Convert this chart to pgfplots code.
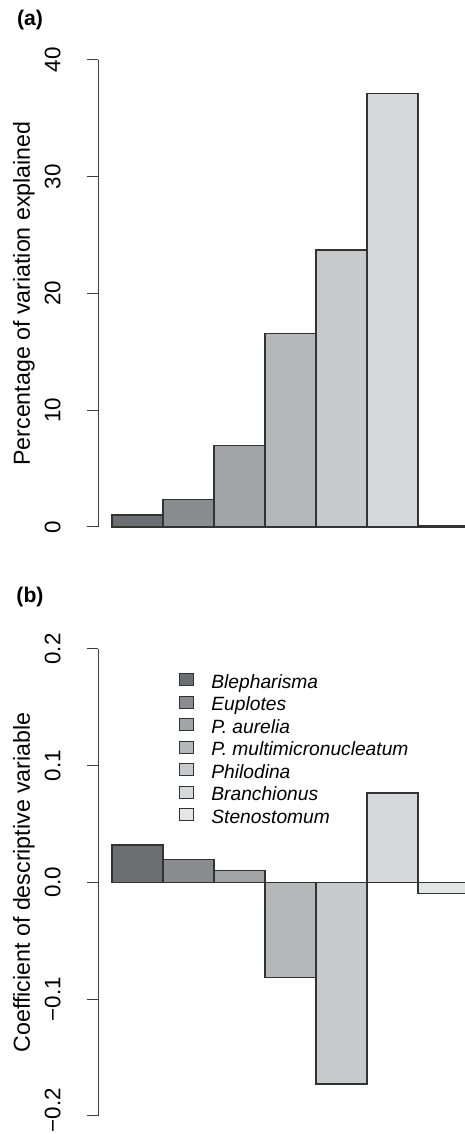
\documentclass[border=0pt]{standalone}
\usepackage{fontspec}
\setmainfont{Liberation Sans}
\usepackage{pgfplots}
\pgfplotsset{compat=1.18}

\definecolor{c1}{HTML}{6D6E71}
\definecolor{c2}{HTML}{8B8C8F}
\definecolor{c3}{HTML}{A3A4A6}
\definecolor{c4}{HTML}{B6B7B9}
\definecolor{c5}{HTML}{C8C9CB}
\definecolor{c6}{HTML}{D7D8D9}
\definecolor{c7}{HTML}{E4E5E6}
\definecolor{edge}{HTML}{333333}

\pgfplotsset{
  rbar/.style={
    scale only axis,
    width=183.5pt,
    xmin=0.2255, xmax=7.4216,
    axis x line=none,
    axis y line*=left,
    clip=false,
    ybar, bar shift=0pt, bar width=1,
    tick align=outside,
    major tick length=5.5pt,
    y axis line style={draw=black!75, line width=0.5pt},
    ytick style={draw=black!75, line width=0.5pt},
    /pgf/number format/assume math mode=true,
    yticklabel style={xshift=-13pt, rotate=90, anchor=south, inner sep=0pt,
      font=\fontsize{11.2}{13}\selectfont},
    every axis y label/.style={at={(axis description cs:-0.1717,0.5)},
      rotate=90, anchor=south, inner sep=0pt,
      font=\fontsize{11.6}{13}\selectfont},
    every axis plot/.append style={draw=edge, line width=0.65pt},
  }
}

\begin{document}
\begin{tikzpicture}
\useasboundingbox (0,0) rectangle (232.5pt,567pt);

\node[font=\fontsize{10.6}{12}\selectfont\bfseries] at (15pt,557pt) {(a)};
\node[font=\fontsize{10.6}{12}\selectfont\bfseries] at (15pt,268.5pt) {(b)};

% (a) percentage of variation explained
\begin{axis}[rbar,
  at={(49pt,303.5pt)}, anchor=south west,
  height=233.5pt,
  ymin=0, ymax=40,
  ytick={0,10,20,30,40},
  yticklabels={0,10,20,30,40},
  ylabel={Percentage of variation explained},
]
\addplot[fill=c1] coordinates {(1,1.03)};
\addplot[fill=c2] coordinates {(2,2.37)};
\addplot[fill=c3] coordinates {(3,7.0)};
\addplot[fill=c4] coordinates {(4,16.59)};
\addplot[fill=c5] coordinates {(5,23.73)};
\addplot[fill=c6] coordinates {(6,37.1)};
\addplot[fill=c7] coordinates {(7,0.1)};
\end{axis}

% (b) coefficients
\begin{axis}[rbar,
  at={(49pt,9.15pt)}, anchor=south west,
  height=233.35pt,
  ymin=-0.2, ymax=0.2,
  ytick={-0.2,-0.1,0,0.1,0.2},
  yticklabels={−0.2\hspace*{-5.7pt},−0.1,0.0,0.1,0.2},
  ylabel={Coefficient of descriptive variable},
  legend cell align=left,
  legend image code/.code={\draw[#1, line width=0.5pt] (0pt,-0.6pt) rectangle (7pt,5.4pt);},
  legend style={at={(axis cs:1.814,0.1796)}, anchor=north west,
    draw=none, fill=none, inner sep=0pt, column sep=8.5pt,
    font=\fontsize{9.6}{11}\selectfont\itshape,
    nodes={inner sep=0pt, text height=7.5pt, text depth=3.75pt}},
]
\addplot[fill=c1] coordinates {(1,0.032)};
\addplot[fill=c2] coordinates {(2,0.0194)};
\addplot[fill=c3] coordinates {(3,0.0099)};
\addplot[fill=c4] coordinates {(4,-0.0814)};
\addplot[fill=c5] coordinates {(5,-0.1728)};
\addplot[fill=c6] coordinates {(6,0.0765)};
\addplot[fill=c7] coordinates {(7,-0.0094)};
\legend{Blepharisma,Euplotes,P. aurelia,P. multimicronucleatum,Philodina,Branchionus,Stenostomum}
\end{axis}
\end{tikzpicture}
\end{document}
